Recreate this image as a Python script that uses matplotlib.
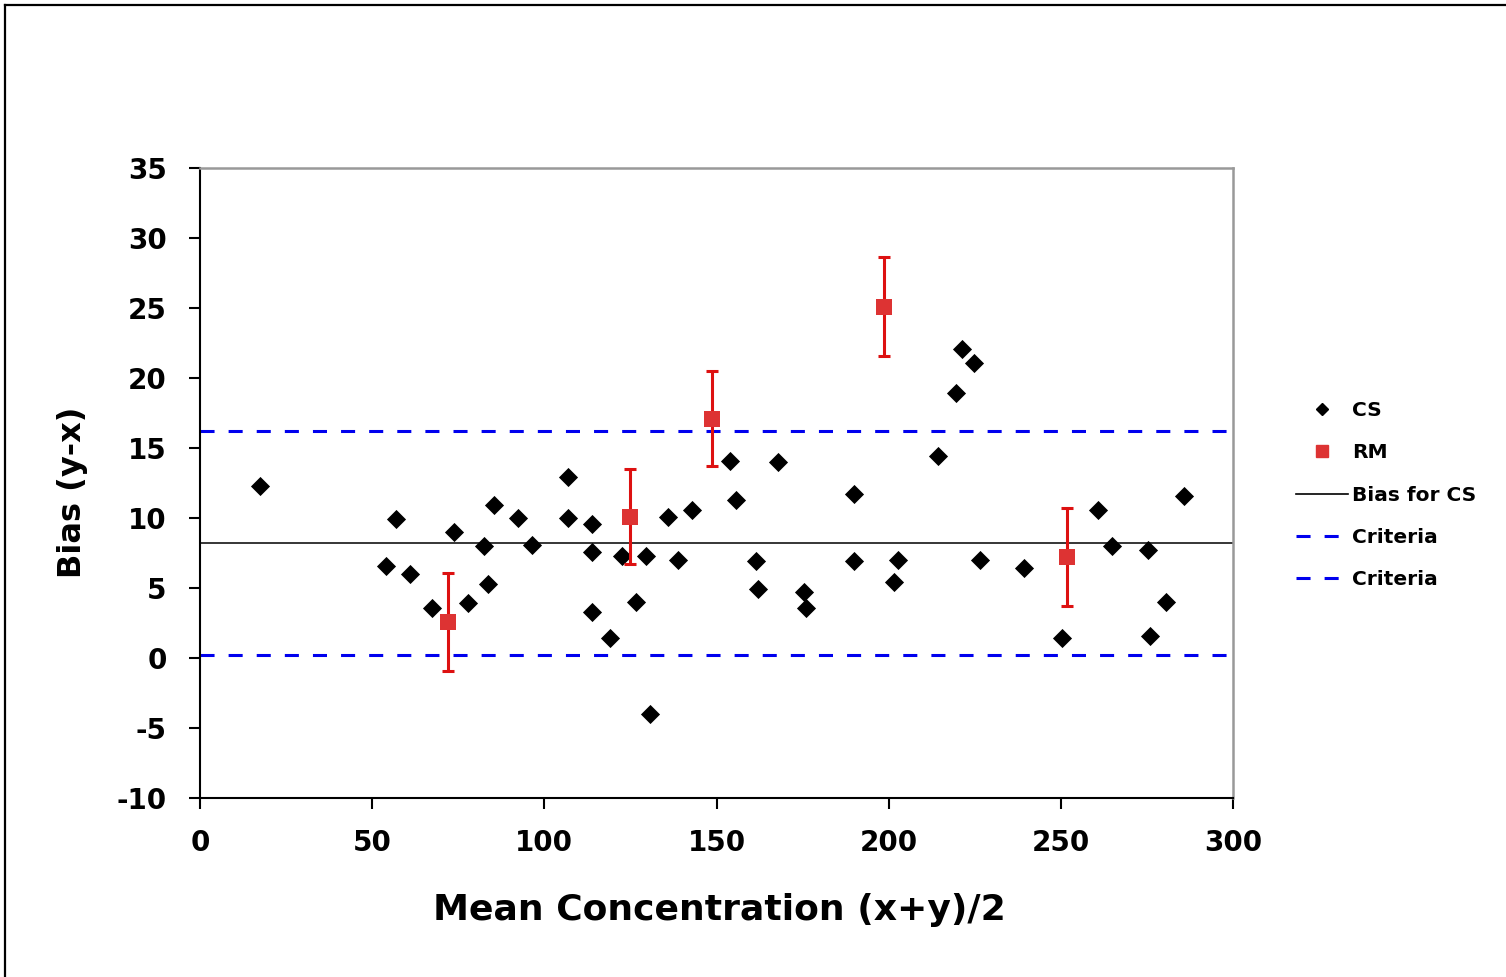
import matplotlib
matplotlib.use("Agg")
import matplotlib.pyplot as plt
from matplotlib.lines import Line2D
import numpy as np

plt.rcParams['font.family'] = ['DejaVu Sans']
plt.rcParams['font.weight'] = 'bold'

# CS data (mean concentration, bias)
cs_x = [17.4, 54.0, 56.9, 61.0, 67.4, 73.8, 77.8, 82.5, 83.6, 85.4, 92.4, 96.4,
        106.9, 106.9, 113.9, 113.9, 113.9, 119.1, 122.6, 126.6, 129.5, 130.7,
        135.9, 138.8, 142.9, 153.9, 155.7, 161.5, 162.1, 167.9, 175.4, 176.0,
        189.9, 189.9, 201.6, 202.7, 214.4, 219.6, 221.3, 224.8, 226.5, 239.3,
        250.4, 260.8, 264.9, 275.3, 275.9, 280.6, 285.8]
cs_y = [12.3, 6.6, 9.9, 6.0, 3.6, 9.0, 3.9, 8.0, 5.3, 10.9, 10.0, 8.1,
        12.9, 10.0, 9.6, 7.6, 3.3, 1.4, 7.3, 4.0, 7.3, -4.0,
        10.1, 7.0, 10.6, 14.1, 11.3, 6.9, 4.9, 14.0, 4.7, 3.6,
        11.7, 6.9, 5.4, 7.0, 14.4, 18.9, 22.1, 21.1, 7.0, 6.4,
        1.4, 10.6, 8.0, 7.7, 1.6, 4.0, 11.6]

# RM data with uncertainty
rm_x = [72.1, 124.9, 148.8, 198.6, 251.9]
rm_y = [2.55, 10.1, 17.1, 25.1, 7.2]
rm_err = [3.5, 3.4, 3.4, 3.55, 3.5]

bias_cs = 8.25
criteria_low = 0.25
criteria_high = 16.25

x_ticks = [0, 50, 100, 150, 200, 250, 300]
y_ticks = [-10, -5, 0, 5, 10, 15, 20, 25, 30, 35]

fig = plt.figure(figsize=(15.06, 9.77), dpi=100)
ax = fig.add_axes([200/1506, 1-798/977, (1233-200)/1506, (798-168)/977])

ax.axhline(bias_cs, color='black', lw=1.1, zorder=2)
dash = (0, (4.6, 4.6))
ax.plot([0, 300], [criteria_high, criteria_high], color='#0000ee', lw=2.2, ls=dash, zorder=2)
ax.plot([0, 300], [criteria_low, criteria_low], color='#0000ee', lw=2.2, ls=dash, zorder=2)

ax.scatter(cs_x, cs_y, marker='D', s=95, color='black', zorder=3, linewidths=0)
ax.errorbar(rm_x, rm_y, yerr=rm_err, fmt='none', ecolor='#dd1111',
            elinewidth=2.2, capsize=4.5, capthick=2.2, zorder=4)
ax.plot(rm_x, rm_y, ls='none', marker='s', color='#dd3333', markersize=11,
        markeredgewidth=0, zorder=5)

ax.set_xlim(0, 300)
ax.set_ylim(-10, 35)
ax.set_xticks(x_ticks)
ax.set_yticks(y_ticks)
ax.set_xticklabels([str(v) for v in x_ticks], fontsize=20, fontweight='bold')
ax.set_yticklabels([str(v) for v in y_ticks], fontsize=20, fontweight='bold')
ax.tick_params(axis='both', direction='out', length=8, width=1.5, color='black')
ax.tick_params(axis='y', pad=16)
ax.tick_params(axis='x', pad=14)

for s in ['left', 'bottom']:
    ax.spines[s].set_color('black')
    ax.spines[s].set_linewidth(1.5)
for s in ['top', 'right']:
    ax.spines[s].set_color('#999999')
    ax.spines[s].set_linewidth(1.8)

ax.set_xlabel('Mean Concentration (x+y)/2', fontsize=26, fontweight='bold')
ax.set_ylabel('Bias (y-x)', fontsize=23, fontweight='bold')
ax.xaxis.set_label_coords((719-200)/1033, -(910-798)/630)
ax.yaxis.set_label_coords(-(200-73)/1033, (798-492)/630)
ax.xaxis.label.set_va('center')
ax.yaxis.label.set_va('center')

handles = [
    Line2D([], [], marker='D', color='black', ls='none', markersize=6.5),
    Line2D([], [], marker='s', color='#dd3333', ls='none', markersize=9),
    Line2D([], [], color='black', lw=1.2),
    Line2D([], [], color='#0000ee', lw=2.2, ls=(0, (4.6, 4.6))),
    Line2D([], [], color='#0000ee', lw=2.2, ls=(0, (4.6, 4.6))),
]
labels = ['CS', 'RM', 'Bias for CS', 'Criteria', 'Criteria']
leg = fig.legend(handles, labels, loc='upper left', bbox_to_anchor=(1296/1506, 1-401/977),
                 frameon=False, handlelength=2.6, handletextpad=0.2,
                 borderpad=0, borderaxespad=0,
                 labelspacing=1.16, prop={'weight': 'bold', 'size': 14.5})

# figure border
fig.add_artist(Line2D([5/1506, 5/1506], [0, 1-5/977], transform=fig.transFigure, color='black', lw=1.6))
fig.add_artist(Line2D([5/1506, 1], [1-5/977, 1-5/977], transform=fig.transFigure, color='black', lw=1.6))

fig.savefig('out.png', dpi=100)
